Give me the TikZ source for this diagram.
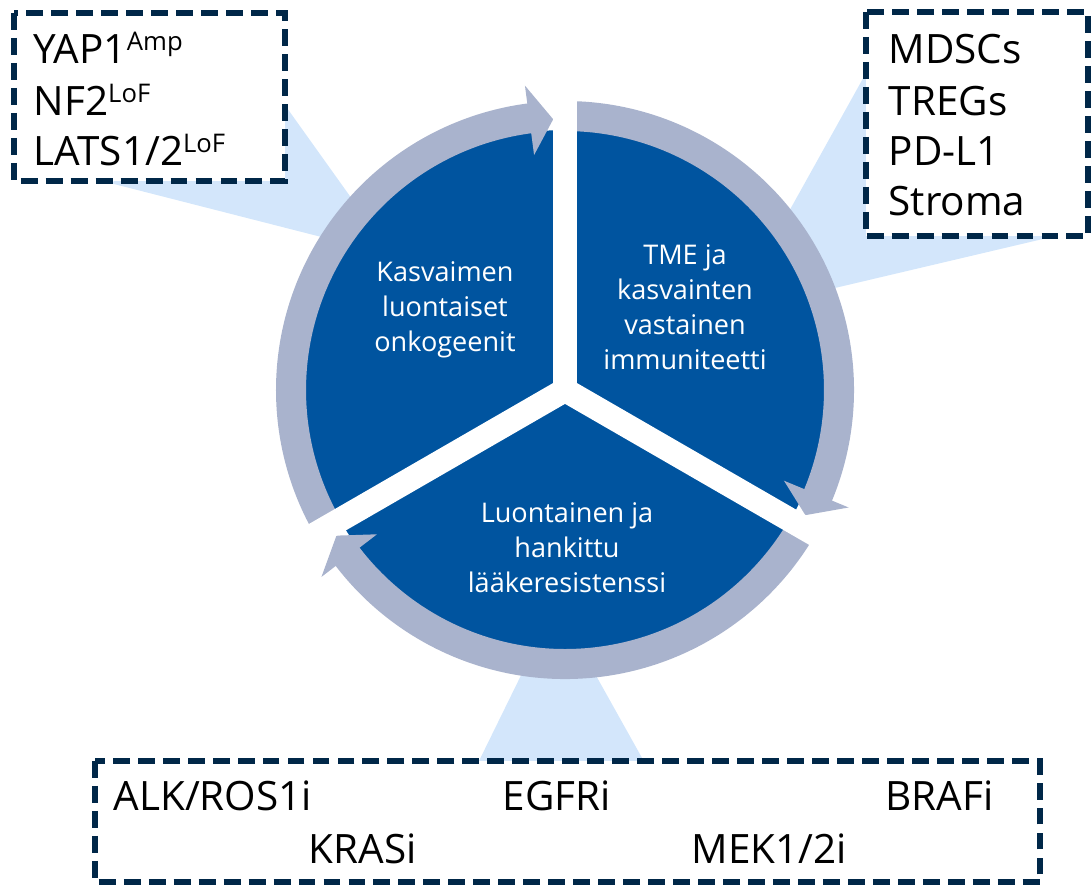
\documentclass[tikz,border=0pt]{standalone}
\usepackage{fontspec}
\setmainfont{Open Sans}
\definecolor{wedgeblue}{RGB}{0,84,159}
\definecolor{ringgray}{RGB}{169,179,205}
\definecolor{calloutblue}{RGB}{211,230,251}
\definecolor{boxnavy}{RGB}{0,39,72}
\newcommand{\suptag}[1]{\raisebox{3.7pt}{\fontsize{7.3}{8}\selectfont #1}}

\begin{document}
\begin{tikzpicture}[x=0.01cm, y=-0.01cm,
	callout/.style={fill=calloutblue},
	dashbox/.style={draw=boxnavy, fill=white, line width=1.6pt, dash pattern=on 4.8pt off 2.3pt},
	ring/.style={draw=ringgray, line width=8.54pt},
	ringhead/.style={fill=ringgray},
	gapline/.style={draw=white, line width=6.83pt},
	boxtext/.style={anchor=base west, inner sep=0pt, font=\fontsize{11.5}{14}\selectfont},
	cycletext/.style={align=center, text=white, inner sep=0pt, font=\fontsize{7.7}{9.96}\selectfont}]
	\useasboundingbox (0,0) rectangle (1092,887);
	
	% callout wedges
	\fill[callout] (287,108) -- (392,255) -- (110,183) -- cycle;
	\fill[callout] (866,73) -- (733,312) -- (1047,238) -- cycle;
	\fill[callout] (477,765) -- (556,604) -- (646,765) -- cycle;
	
	% cycle
	\begin{scope}[shift={(565,390)}, yscale=-1]
		\fill[wedgeblue] (0,0) circle[radius=260];
		\draw[ring] (210:274) arc[start angle=210, end angle=96.5, radius=274];
		\fill[ringhead] (92.5:271) -- (97.5:307) -- (97.5:237) -- cycle;
		\draw[ring] (90:274) arc[start angle=90, end angle=-23.5, radius=274];
		\fill[ringhead] (-27.5:271) -- (-22.5:307) -- (-22.5:237) -- cycle;
		\draw[ring] (-30:274) arc[start angle=-30, end angle=-143.5, radius=274];
		\fill[ringhead] (212.5:271) -- (217.5:307) -- (217.5:237) -- cycle;
		\foreach \a in {90,210,330}
			\draw[gapline] (0,0) -- (\a:330);
	\end{scope}
	
	\node[cycletext] (onco) at (445,310) {Kasvaimen\\luontaiset\\onkogeenit};
	\node[cycletext] (tme) at (685,307) {TME ja\\kasvainten\\vastainen\\immuniteetti};
	\node[cycletext] (resist) at (567,548) {Luontainen ja\\hankittu\\lääkeresistenssi};
	
	% boxes
	\draw[dashbox] (14,13) rectangle (285,181);
	\draw[dashbox] (866,12) rectangle (1088,236);
	\draw[dashbox] (95,761) rectangle (1040,882);
	
	\node[boxtext] (yap) at (33,63) {YAP1\suptag{Amp}};
	\node[boxtext] (nf) at (33,115) {NF2\suptag{LoF}};
	\node[boxtext] (lats) at (33,165) {LATS1/2\suptag{LoF}};
	
	\node[boxtext] (mdsc) at (888,63) {MDSCs};
	\node[boxtext] (treg) at (888,115) {TREGs};
	\node[boxtext] (pdl) at (888,165) {PD-L1};
	\node[boxtext] (stroma) at (888,215) {Stroma};
	
	\node[boxtext] (alk) at (113,810) {ALK/ROS1i};
	\node[boxtext] (egfr) at (502,810) {EGFRi};
	\node[boxtext] (braf) at (885,810) {BRAFi};
	\node[boxtext] (kras) at (308,863) {KRASi};
	\node[boxtext] (mek) at (691,863) {MEK1/2i};
\end{tikzpicture}
\end{document}
